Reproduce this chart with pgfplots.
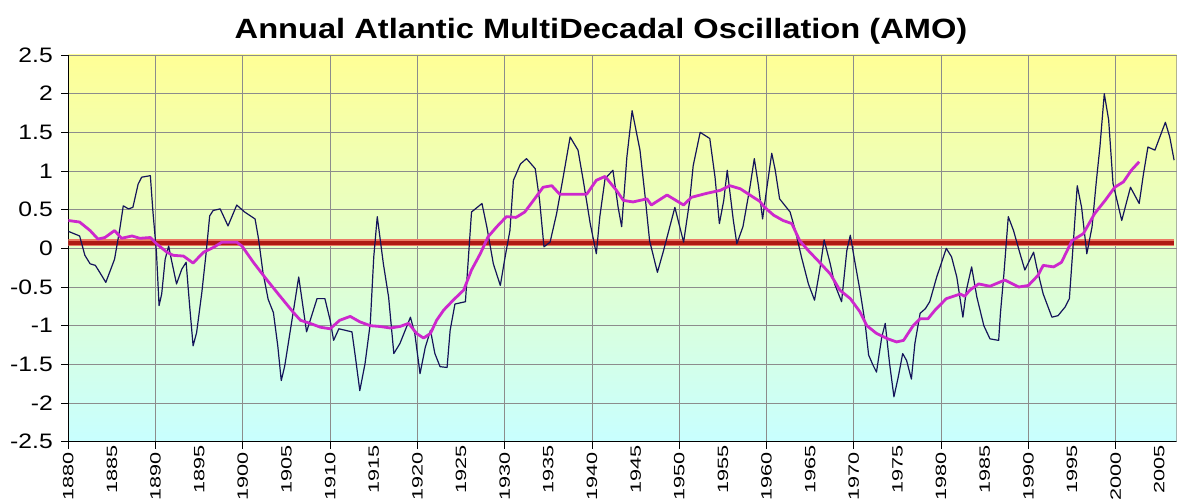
\documentclass[border=0pt]{standalone}
\usepackage{pgfplots}
\pgfplotsset{compat=1.18}
\usepackage{fontspec}
\setmainfont{Liberation Sans}
\newfontfamily\titlefont[FakeStretch=1.17]{Liberation Sans}
\newfontfamily\ytfont[FakeStretch=1.18]{Liberation Sans}
\newfontfamily\xtfont[FakeStretch=1.45]{Liberation Sans}
\definecolor{bgtop}{RGB}{255,255,150}
\definecolor{bgbot}{RGB}{200,255,255}
\definecolor{amoblue}{RGB}{20,20,90}
\definecolor{amomag}{RGB}{205,40,205}
\definecolor{redcore}{RGB}{175,25,20}
\definecolor{redhalo}{RGB}{235,120,100}
\definecolor{gridgray}{RGB}{140,140,140}
\begin{document}
\begin{tikzpicture}
\useasboundingbox (0,0) rectangle (1185bp,499bp);
\begin{axis}[
  at={(68.3bp,57.3bp)}, anchor=south west,
  scale only axis, width=1108.4bp, height=386.7bp,
  xmin=1880, xmax=2007, ymin=-2.5, ymax=2.5,
  axis background/.style={top color=bgtop, bottom color=bgbot},
  axis x line*=bottom, axis y line*=left,
  axis line style={black, line width=0.9bp},
  tick align=outside, major tick length=7bp,
  tick style={black, line width=0.9bp},
  xtick={1880,1890,1900,1910,1920,1930,1940,1950,1960,1970,1980,1990,2000},
  xticklabels={1880,1890,1900,1910,1920,1930,1940,1950,1960,1970,1980,1990,2000},
  extra x ticks={1885,1895,1905,1915,1925,1935,1945,1955,1965,1975,1985,1995,2005},
  extra x tick labels={1885,1895,1905,1915,1925,1935,1945,1955,1965,1975,1985,1995,2005},
  extra x tick style={major tick length=0pt, grid=none},
  ytick={-2.5,-2,-1.5,-1,-0.5,0,0.5,1,1.5,2,2.5},
  yticklabels={-2.5,-2,-1.5,-1,-0.5,0,0.5,1,1.5,2,2.5},
  xticklabel style={font=\xtfont\fontsize{15}{15}\selectfont, rotate=90, anchor=east},
  yticklabel style={font=\ytfont\fontsize{21}{21}\selectfont, anchor=east, xshift=-5bp},
  grid=major, grid style={gridgray, line width=0.9bp},
]
\addplot[draw=redhalo, line width=7bp, forget plot] coordinates {(1880,0.07) (2006.7,0.07)};
\addplot[draw=redcore, line width=4bp, forget plot] coordinates {(1880,0.07) (2006.7,0.07)};
\addplot[draw=amoblue, line width=1.2bp, line join=round] coordinates {
(1880.0,0.22) (1881.3,0.16) (1881.9,-0.09) (1882.5,-0.20) (1883.1,-0.22) (1883.6,-0.31)
(1884.3,-0.44) (1885.3,-0.14) (1885.9,0.25) (1886.3,0.55) (1886.9,0.51) (1887.4,0.53)
(1888.0,0.83) (1888.4,0.92) (1889.4,0.94) (1889.7,0.47) (1890.1,-0.05) (1890.4,-0.74)
(1890.7,-0.59) (1891.1,-0.14) (1891.5,0.03) (1891.8,-0.14) (1892.4,-0.46) (1893.0,-0.27)
(1893.5,-0.18) (1893.9,-0.74) (1894.3,-1.26) (1894.7,-1.09) (1895.3,-0.57) (1895.8,-0.05)
(1896.2,0.42) (1896.6,0.49) (1897.4,0.51) (1898.3,0.29) (1899.3,0.56) (1900.2,0.47)
(1901.4,0.38) (1901.8,0.12) (1902.3,-0.31) (1902.9,-0.66) (1903.5,-0.83) (1904.0,-1.26)
(1904.4,-1.71) (1904.8,-1.52) (1905.4,-1.09) (1906.0,-0.66) (1906.4,-0.37) (1907.3,-1.08)
(1908.5,-0.65) (1909.4,-0.65) (1910.0,-0.93) (1910.4,-1.19) (1911.0,-1.04) (1912.5,-1.08)
(1912.9,-1.41) (1913.4,-1.84) (1914.0,-1.49) (1914.6,-0.97) (1915.0,-0.11) (1915.4,0.41)
(1916.1,-0.20) (1916.7,-0.63) (1917.3,-1.36) (1918.0,-1.23) (1918.6,-1.06) (1919.2,-0.89)
(1919.7,-1.10) (1920.3,-1.62) (1920.9,-1.28) (1921.5,-1.06) (1922.0,-1.36) (1922.6,-1.53)
(1923.4,-1.54) (1923.75,-1.06) (1924.3,-0.72) (1925.5,-0.69) (1926.2,0.47) (1927.4,0.58)
(1927.95,0.28) (1928.7,-0.20) (1929.5,-0.48) (1930.05,-0.11) (1930.6,0.23) (1931.0,0.88)
(1931.8,1.09) (1932.5,1.16) (1933.5,1.03) (1934.0,0.62) (1934.5,0.02) (1935.2,0.08)
(1935.95,0.45) (1936.7,0.92) (1937.5,1.44) (1938.4,1.27) (1939.0,0.88) (1939.8,0.32)
(1940.5,-0.07) (1940.9,0.41) (1941.5,0.90) (1942.4,1.01) (1943.0,0.53) (1943.4,0.28)
(1944.0,1.18) (1944.6,1.78) (1944.9,1.61) (1945.5,1.27) (1946.1,0.66) (1946.6,0.10)
(1947.5,-0.31) (1948.2,-0.03) (1949.5,0.53) (1950.5,0.08) (1951.2,0.62) (1951.6,1.07)
(1952.4,1.50) (1953.5,1.42) (1954.1,0.92) (1954.6,0.32) (1955.1,0.62) (1955.5,1.01)
(1956.2,0.36) (1956.6,0.06) (1957.3,0.28) (1958.1,0.79) (1958.6,1.16) (1959.1,0.79)
(1959.55,0.38) (1960.0,0.75) (1960.6,1.23) (1961.0,1.01) (1961.5,0.64) (1962.7,0.47)
(1963.3,0.23) (1964.0,-0.11) (1964.8,-0.46) (1965.5,-0.67) (1966.1,-0.28) (1966.6,0.11)
(1967.3,-0.20) (1967.8,-0.46) (1968.6,-0.69) (1969.2,-0.03) (1969.6,0.17) (1970.1,-0.16)
(1970.7,-0.54) (1971.3,-0.97) (1971.7,-1.38) (1972.2,-1.51) (1972.6,-1.60) (1973.2,-1.15)
(1973.6,-0.97) (1974.1,-1.49) (1974.6,-1.92) (1975.1,-1.66) (1975.6,-1.36) (1976.05,-1.45)
(1976.6,-1.69) (1977.0,-1.23) (1977.6,-0.84) (1978.2,-0.78) (1978.7,-0.69) (1979.5,-0.37)
(1980.6,0.00) (1981.2,-0.11) (1981.8,-0.37) (1982.5,-0.89) (1982.9,-0.54) (1983.5,-0.24)
(1984.1,-0.63) (1984.9,-1.00) (1985.6,-1.17) (1986.6,-1.19) (1986.8,-0.84) (1987.2,-0.33)
(1987.7,0.41) (1988.3,0.23) (1989.05,-0.07) (1989.6,-0.28) (1990.6,-0.05) (1990.95,-0.24)
(1991.7,-0.59) (1992.7,-0.89) (1993.4,-0.87) (1994.2,-0.76) (1994.7,-0.65) (1995.2,0.15)
(1995.6,0.81) (1996.1,0.53) (1996.7,-0.07) (1997.3,0.28) (1997.8,0.88) (1998.2,1.31)
(1998.7,2.00) (1999.2,1.66) (1999.7,0.84) (2000.7,0.36) (2001.7,0.79) (2002.7,0.58)
(2003.2,0.97) (2003.7,1.31) (2004.5,1.27) (2005.7,1.63) (2006.2,1.44) (2006.7,1.14)
};
\addplot[draw=amomag, line width=2.8bp, line join=round] coordinates {
(1880.0,0.36) (1881.3,0.34) (1882.5,0.23) (1883.4,0.12) (1884.2,0.14) (1885.3,0.23)
(1886.1,0.13) (1887.3,0.16) (1888.2,0.13) (1889.4,0.14) (1890.1,0.06) (1891.3,-0.05)
(1892.0,-0.09) (1893.2,-0.10) (1894.3,-0.19) (1895.5,-0.05) (1896.6,0.01) (1897.6,0.08)
(1899.3,0.08) (1899.9,0.03) (1901.2,-0.18) (1902.7,-0.40) (1904.2,-0.61) (1905.8,-0.83)
(1906.6,-0.93) (1907.7,-0.97) (1908.9,-1.02) (1910.0,-1.04) (1911.1,-0.93) (1912.3,-0.88)
(1913.4,-0.95) (1914.6,-1.00) (1915.7,-1.01) (1916.9,-1.03) (1918.0,-1.01) (1919.0,-0.97)
(1919.9,-1.10) (1920.7,-1.16) (1921.5,-1.10) (1922.2,-0.93) (1923.0,-0.80) (1924.1,-0.67)
(1925.3,-0.54) (1926.2,-0.28) (1927.2,-0.07) (1928.1,0.15) (1929.1,0.28) (1930.2,0.41)
(1931.3,0.40) (1932.3,0.47) (1933.3,0.62) (1934.4,0.79) (1935.4,0.81) (1936.3,0.70)
(1939.4,0.70) (1940.5,0.88) (1941.5,0.93) (1942.8,0.75) (1943.6,0.62) (1944.7,0.60)
(1946.3,0.64) (1946.8,0.56) (1948.6,0.69) (1950.5,0.56) (1951.4,0.66) (1953.1,0.71)
(1954.7,0.75) (1955.8,0.81) (1957.0,0.77) (1958.5,0.66) (1959.2,0.61) (1959.8,0.53)
(1960.8,0.43) (1961.9,0.36) (1962.9,0.32) (1963.8,0.10) (1964.8,-0.03) (1965.9,-0.16)
(1967.3,-0.33) (1968.4,-0.54) (1969.6,-0.65) (1970.7,-0.82) (1971.5,-1.00) (1972.6,-1.10)
(1973.9,-1.17) (1974.9,-1.21) (1975.7,-1.19) (1976.8,-1.00) (1977.6,-0.91) (1978.5,-0.91)
(1979.3,-0.80) (1980.6,-0.65) (1982.2,-0.59) (1982.7,-0.62) (1983.3,-0.54) (1984.3,-0.46)
(1985.6,-0.49) (1987.3,-0.41) (1988.9,-0.50) (1990.0,-0.48) (1991.1,-0.35) (1991.7,-0.22)
(1992.9,-0.24) (1993.8,-0.18) (1995.0,0.10) (1996.3,0.19) (1997.6,0.45) (1998.8,0.62)
(1999.9,0.79) (2000.9,0.86) (2001.8,1.01) (2002.7,1.12)
};
\draw[gridgray, line width=0.9bp] (rel axis cs:1,0) -- (rel axis cs:1,1);
\end{axis}
\node[anchor=base, inner sep=0pt, font=\titlefont\bfseries\fontsize{28}{28}\selectfont] at (601bp,460.7bp) {Annual Atlantic MultiDecadal Oscillation (AMO)};
\end{tikzpicture}
\end{document}
